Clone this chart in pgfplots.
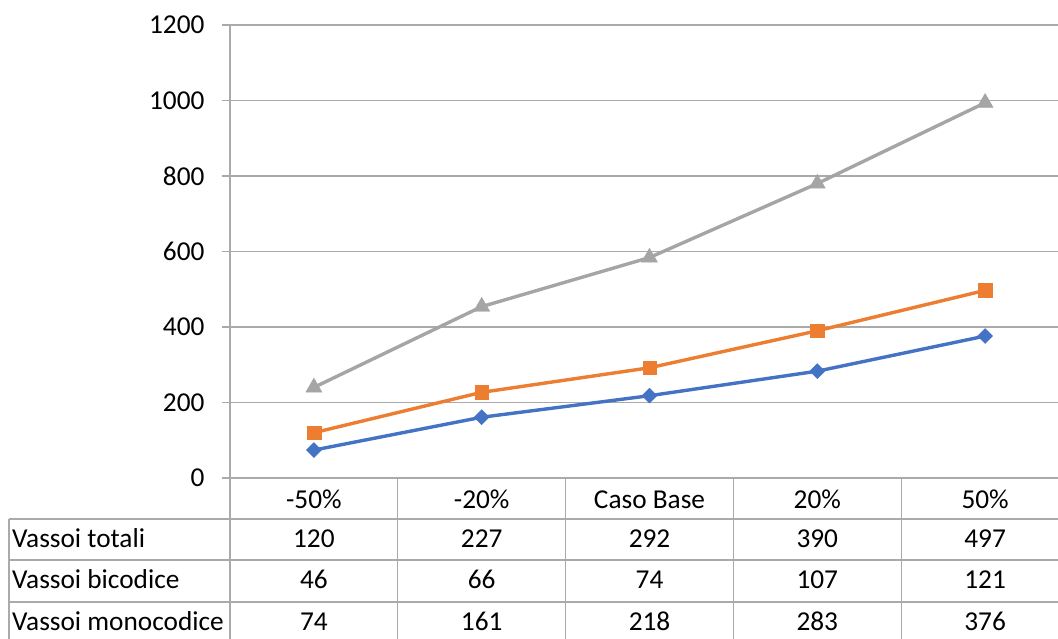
\documentclass[border=0pt]{standalone}
\usepackage{pgfplots}
\usepackage{pgfplotstable}
\pgfplotsset{compat=1.18}
\usepackage{fontspec}
\setmainfont{Carlito}

\definecolor{serieblu}{HTML}{4472C4}
\definecolor{seriearancio}{HTML}{ED7D31}
\definecolor{seriegrigio}{HTML}{A5A5A5}
\definecolor{griglia}{RGB}{170,170,170}

% Vassoi per scenario: monocodice, bicodice, totali
\pgfplotstableread{
idx mono bi tot
0   74   46  120
1   161  66  227
2   218  74  292
3   283  107 390
4   376  121 497
}\vassoi

\begin{document}
\begin{tikzpicture}[font=\fontsize{27.3}{32}\selectfont]
\path[use as bounding box] (0pt,0pt) rectangle (1058pt,-638pt);
\clip (0pt,0pt) rectangle (1058pt,-638pt);
\begin{axis}[
  at={(230pt,-478pt)}, anchor=south west,
  scale only axis, width=839pt, height=453pt,
  xmin=-0.5, xmax=4.5, ymin=0, ymax=1200,
  ytick={0,200,...,1200}, xtick=\empty,
  ymajorgrids, grid style={griglia, line width=1.3pt},
  axis x line=bottom, axis y line=left,
  axis line style={-, griglia, line width=1.3pt},
  tick align=outside, major tick length=8pt,
  ytick style={griglia, line width=1.3pt},
  /pgf/number format/assume math mode=true,
  /pgf/number format/1000 sep={},
  yticklabel style={text=black, font=\fontsize{27.3}{32}\selectfont,
    anchor=east, xshift=-14pt},
  stack plots=y,
  every axis plot/.append style={line width=3.4pt},
]
\addplot[serieblu, mark=square*, mark options={solid, rotate=45, line width=0.4pt}, mark size=5.3pt]
  table[x=idx, y=mono]{\vassoi};
\addplot[seriearancio, mark=square*, mark options={solid, line width=0.4pt}, mark size=6.8pt]
  table[x=idx, y=bi]{\vassoi};
\addplot[seriegrigio, mark=triangle*, mark options={solid, line width=0.4pt}, mark size=9.3pt]
  table[x=idx, y=tot]{\vassoi};
\coordinate (c0) at (axis cs:0,0);
\coordinate (c1) at (axis cs:1,0);
\coordinate (c2) at (axis cs:2,0);
\coordinate (c3) at (axis cs:3,0);
\coordinate (c4) at (axis cs:4,0);
\coordinate (b0) at (axis cs:-0.5,0);
\coordinate (b1) at (axis cs:0.5,0);
\coordinate (b2) at (axis cs:1.5,0);
\coordinate (b3) at (axis cs:2.5,0);
\coordinate (b4) at (axis cs:3.5,0);
\coordinate (b5) at (axis cs:4.5,0);
\end{axis}

% tabella dati sotto il grafico
\begin{scope}[griglia, line width=1.3pt]
  \foreach \k in {0,...,5} \draw (b\k) -- (b\k |- 0pt,-640pt);
  \draw (9pt,-519pt) -- (1060pt,-519pt);
  \draw (9pt,-560pt) -- (1060pt,-560pt);
  \draw (9pt,-602pt) -- (1060pt,-602pt);
  \draw (9pt,-519pt) -- (9pt,-640pt);
\end{scope}

\foreach \i/\lab in {0/-50\%,1/-20\%,2/Caso Base,3/20\%,4/50\%}
  \node[anchor=base, inner sep=0pt] at (c\i |- 0pt,-508pt) {\lab};

\node[anchor=base west, inner sep=0pt] at (12pt,-547pt) {Vassoi totali};
\node[anchor=base west, inner sep=0pt] at (12pt,-588pt) {Vassoi bicodice};
\node[anchor=base west, inner sep=0pt] at (12pt,-630pt) {Vassoi monocodice};

\foreach \i in {0,...,4}{
  \pgfplotstablegetelem{\i}{tot}\of\vassoi
  \node[anchor=base, inner sep=0pt] at (c\i |- 0pt,-547pt) {\pgfplotsretval};
  \pgfplotstablegetelem{\i}{bi}\of\vassoi
  \node[anchor=base, inner sep=0pt] at (c\i |- 0pt,-588pt) {\pgfplotsretval};
  \pgfplotstablegetelem{\i}{mono}\of\vassoi
  \node[anchor=base, inner sep=0pt] at (c\i |- 0pt,-630pt) {\pgfplotsretval};
}
\end{tikzpicture}
\end{document}
